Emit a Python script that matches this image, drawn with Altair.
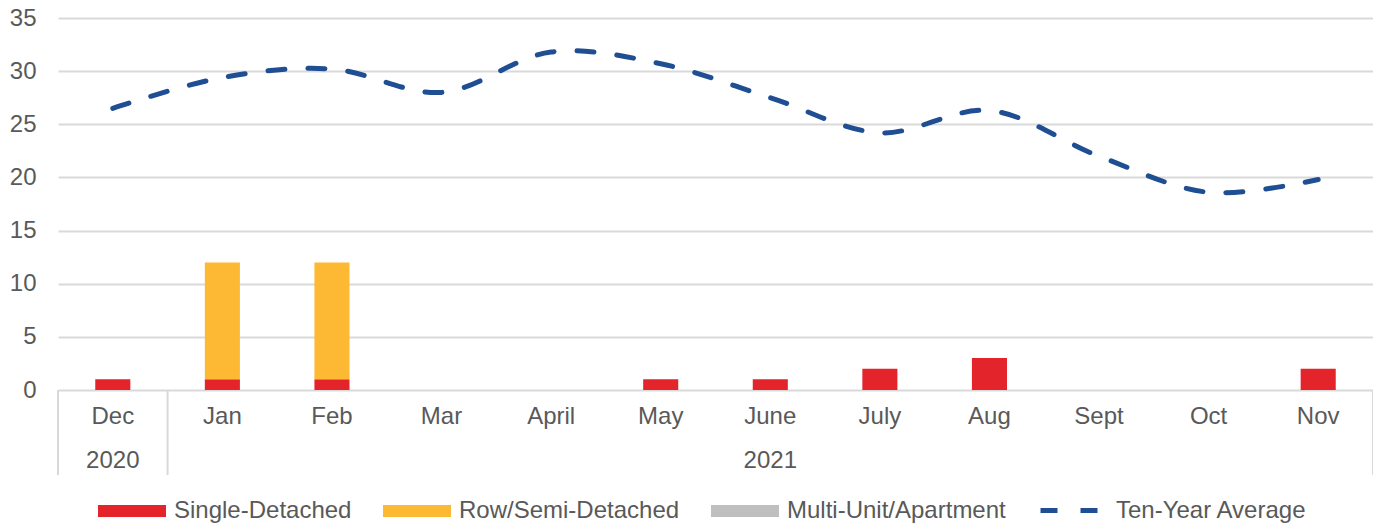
import altair as alt
import pandas as pd

months = ["Dec", "Jan", "Feb", "Mar", "April", "May", "June", "July", "Aug", "Sept", "Oct", "Nov"]
single_detached = [1, 1, 1, 0, 0, 1, 1, 2, 3, 0, 0, 2]
row_semi = [0, 11, 11, 0, 0, 0, 0, 0, 0, 0, 0, 0]
multi_unit = [0, 0, 0, 0, 0, 0, 0, 0, 0, 0, 0, 0]
ten_year_avg = [26.5, 29.4, 30.2, 28.0, 31.8, 30.7, 27.5, 24.2, 26.3, 22.0, 18.6, 19.8]
series_names = ["Single-Detached", "Row/Semi-Detached", "Multi-Unit/Apartment"]
series_colors = ["#E3242B", "#FDB933", "#BFBFBF"]
line_name = "Ten-Year Average"
years = ["2020", "2021"]
year_anchor = ["Dec", "June"]  # centre month of each year group
group_starts = ["Dec", "Jan"]
group_end = ["Nov"]

W, H = 1315, 372
FONT = "Liberation Sans"
FS = 24
GREY_TXT = "#595959"
GRID = "#D9D9D9"
NAVY = "#1F4E93"

rows = []
for name, vals in zip(series_names, [single_detached, row_semi, multi_unit]):
    for m, v in zip(months, vals):
        rows.append({"month": m, "type": name, "value": v, "order": series_names.index(name)})
bars_df = pd.DataFrame(rows)
line_df = pd.DataFrame({"month": months, "avg": ten_year_avg, "series": line_name})
year_df = pd.DataFrame({"month": year_anchor, "year": years})
start_df = pd.DataFrame({"month": group_starts})
end_df = pd.DataFrame({"month": group_end})

xscale = alt.Scale(domain=months, paddingInner=0, paddingOuter=0)
xaxis = alt.Axis(title=None, domain=False, ticks=False, labelFontSize=FS, labelFont=FONT,
                 labelColor=GREY_TXT, labelPadding=14, labelAngle=0, grid=False)
yscale = alt.Scale(domain=[0, 35], nice=False)
yaxis = alt.Axis(title=None, values=[0, 5, 10, 15, 20, 25, 30, 35], domain=False, ticks=False,
                 labelFontSize=FS, labelFont=FONT, labelColor=GREY_TXT, labelPadding=22,
                 gridColor=GRID, gridWidth=2)

bars = alt.Chart(bars_df).mark_bar(width=alt.RelativeBandSize(0.32)).encode(
    x=alt.X("month:N", scale=xscale, axis=xaxis, sort=months),
    y=alt.Y("value:Q", scale=yscale, axis=yaxis, stack="zero"),
    color=alt.Color("type:N", scale=alt.Scale(domain=series_names, range=series_colors),
                    legend=alt.Legend(title=None, orient="none", direction="horizontal", columns=3,
                                      legendX=40, legendY=459, symbolType="M-1,-0.18H1V0.18H-1Z",
                                      symbolSize=4624, symbolStrokeWidth=0, labelFontSize=FS,
                                      labelFont=FONT, labelColor=GREY_TXT, labelOffset=8,
                                      columnPadding=31, padding=0, labelLimit=400)),
    order=alt.Order("order:Q"),
)

line = alt.Chart(line_df).mark_line(color=NAVY, strokeWidth=5, strokeCap="round",
                                    interpolate="catmull-rom").encode(
    x=alt.X("month:N", scale=xscale, sort=months),
    y=alt.Y("avg:Q", scale=yscale),
    strokeDash=alt.StrokeDash("series:N", scale=alt.Scale(domain=[line_name], range=[[17, 23]]),
                              legend=alt.Legend(title=None, orient="none", legendX=980, legendY=456,
                                                symbolType="stroke", symbolSize=4624,
                                                symbolStrokeColor=NAVY, symbolStrokeWidth=5,
                                                labelFontSize=FS, labelFont=FONT,
                                                labelColor=GREY_TXT, labelOffset=5, padding=0,
                                                labelLimit=400)),
)

sep_start = alt.Chart(start_df).mark_rule(color=GRID, strokeWidth=2).encode(
    x=alt.X("month:N", scale=xscale, sort=months, bandPosition=0),
    y=alt.value(H), y2=alt.value(H + 85),
)
sep_end = alt.Chart(end_df).mark_rule(color=GRID, strokeWidth=2).encode(
    x=alt.X("month:N", scale=xscale, sort=months, bandPosition=1),
    y=alt.value(H), y2=alt.value(H + 85),
)
year_text = alt.Chart(year_df).mark_text(fontSize=FS, font=FONT, color=GREY_TXT, baseline="middle").encode(
    x=alt.X("month:N", scale=xscale, sort=months),
    y=alt.value(H + 71),
    text="year:N",
)

chart = alt.layer(bars, sep_start, sep_end, year_text, line).properties(
    width=W, height=H,
    autosize=alt.AutoSizeParams(type="none"),
    padding={"left": 50, "top": 10, "right": 0, "bottom": 137},
).configure_view(stroke=None).configure_axis(labelFont=FONT)

chart.save("out.html", embed_options={"renderer": "svg", "actions": False})
